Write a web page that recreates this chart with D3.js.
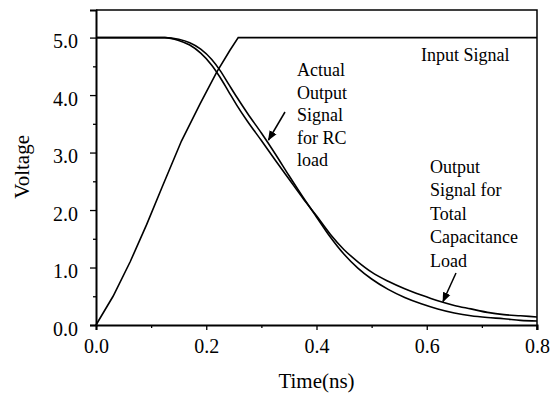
<!DOCTYPE html>
<html>
<head>
<meta charset="utf-8">
<script src="https://cdn.jsdelivr.net/npm/d3@7"></script>
</head>
<body style="margin:0">
<svg id="chart" width="558" height="397"></svg>
<script>
// time axis (ns) and voltages
const inputTime = [0, 0.031, 0.062, 0.092, 0.12, 0.155, 0.189, 0.219, 0.243, 0.258, 0.8];
const inputVolt = [0, 0.50, 1.10, 1.75, 2.40, 3.20, 3.85, 4.40, 4.78, 5.0, 5.0];

const outTime = [0, 0.125, 0.15, 0.17, 0.19, 0.21, 0.225, 0.24, 0.255, 0.275, 0.30, 0.325, 0.35, 0.375,
                 0.40, 0.425, 0.45, 0.475, 0.50, 0.53, 0.56, 0.59, 0.62, 0.65, 0.68, 0.71, 0.74, 0.77, 0.80];
// output for RC load
const rcVolt = [5.0, 5.0, 4.97, 4.91, 4.80, 4.62, 4.43, 4.20, 3.97, 3.68, 3.34, 2.98, 2.60, 2.23,
                1.88, 1.53, 1.23, 0.99, 0.80, 0.62, 0.48, 0.37, 0.28, 0.21, 0.16, 0.13, 0.11, 0.08, 0.07];
// output for total capacitance load
const capVolt = [5.0, 5.0, 4.95, 4.87, 4.73, 4.52, 4.31, 4.07, 3.83, 3.54, 3.21, 2.87, 2.54, 2.21,
                 1.90, 1.58, 1.31, 1.10, 0.92, 0.76, 0.63, 0.52, 0.42, 0.34, 0.28, 0.22, 0.18, 0.16, 0.14];

const xTicks = [0, 0.2, 0.4, 0.6, 0.8];
const xMinor = [0.1, 0.3, 0.5, 0.7];
const yTicks = [0, 1, 2, 3, 4, 5];
const yMinor = [0.5, 1.5, 2.5, 3.5, 4.5];

const FONT = "Times New Roman";

const svg = d3.select("#chart");
const margin = {top: 10, right: 21, bottom: 72, left: 96};
const width = 558 - margin.left - margin.right;
const height = 397 - margin.top - margin.bottom;

const x = d3.scaleLinear().domain([0, 0.8]).range([0, width]);
const y = d3.scaleLinear().domain([0, 5.48]).range([height, 0]);

const g = svg.append("g").attr("transform", `translate(${margin.left},${margin.top})`);

// frame (top and right)
g.append("path")
  .attr("d", `M0,0H${width}V${height + 5}`)
  .attr("fill", "none").attr("stroke", "#000").attr("stroke-width", 1.5);

// minor ticks
g.append("g").attr("transform", `translate(0,${height})`)
  .call(d3.axisBottom(x).tickValues(xMinor).tickSize(3).tickFormat(""))
  .call(a => a.select(".domain").remove());
g.append("g")
  .call(d3.axisLeft(y).tickValues(yMinor).tickSize(3).tickFormat(""))
  .call(a => a.select(".domain").remove());

const xAxis = g.append("g").attr("transform", `translate(0,${height})`)
  .call(d3.axisBottom(x).tickValues(xTicks).tickSize(5).tickPadding(9).tickFormat(d3.format(".1f")));
const yAxis = g.append("g")
  .call(d3.axisLeft(y).tickValues(yTicks).tickSize(6).tickPadding(12).tickFormat(d3.format(".1f")));

[xAxis, yAxis].forEach(a => {
  a.attr("font-family", null);
  a.select(".domain").attr("stroke-width", 2);
  a.selectAll("text").attr("font-size", 20).attr("fill", "#000");
});
yAxis.selectAll("text").attr("dy", "0.5em");
g.selectAll(".tick line").attr("stroke-width", 1.3);

// axis titles
svg.append("text")
  .attr("x", margin.left + x(0.4)).attr("y", 388)
  .attr("text-anchor", "middle").attr("font-size", 21)
  .text("Time(ns)");
svg.append("text")
  .attr("transform", `translate(29,${margin.top + y(2.75)}) rotate(-90)`)
  .attr("text-anchor", "middle").attr("font-size", 21)
  .text("Voltage");

// curves
const line = (ts, vs, curve) => d3.line().curve(curve).x((d, i) => x(ts[i])).y(d => y(d))(vs);
[[inputTime, inputVolt, d3.curveLinear], [outTime, rcVolt, d3.curveMonotoneX], [outTime, capVolt, d3.curveMonotoneX]]
  .forEach(([ts, vs, c]) => {
    g.append("path")
      .attr("d", line(ts, vs, c))
      .attr("fill", "none").attr("stroke", "#000").attr("stroke-width", 1.6);
  });

// annotations
const annot = (lines, x0, y0, step) => {
  const t = svg.append("text").attr("font-size", 18);
  lines.forEach((s, i) => t.append("tspan").attr("x", x0).attr("y", y0 + i * step).text(s));
};
annot(["Input Signal"], 421, 61, 0);
annot(["Actual", "Output", "Signal", "for RC", "load"], 297, 76, 22.6);
annot(["Output", "Signal for", "Total", "Capacitance", "Load"], 430, 173, 23.4);

svg.append("defs").append("marker")
  .attr("id", "head").attr("viewBox", "0 0 10 10").attr("refX", 9).attr("refY", 5)
  .attr("markerWidth", 10).attr("markerHeight", 10).attr("markerUnits", "userSpaceOnUse")
  .attr("orient", "auto")
  .append("path").attr("d", "M0,1L10,5L0,9Z").attr("fill", "#000");

[[285, 112, 268.5, 140], [456, 273, 443, 301.5]].forEach(([x1, y1, x2, y2]) => {
  svg.append("line")
    .attr("x1", x1).attr("y1", y1).attr("x2", x2).attr("y2", y2)
    .attr("stroke", "#000").attr("stroke-width", 1.5)
    .attr("marker-end", "url(#head)");
});

svg.selectAll("text").style("font-family", FONT);
</script>
</body>
</html>
